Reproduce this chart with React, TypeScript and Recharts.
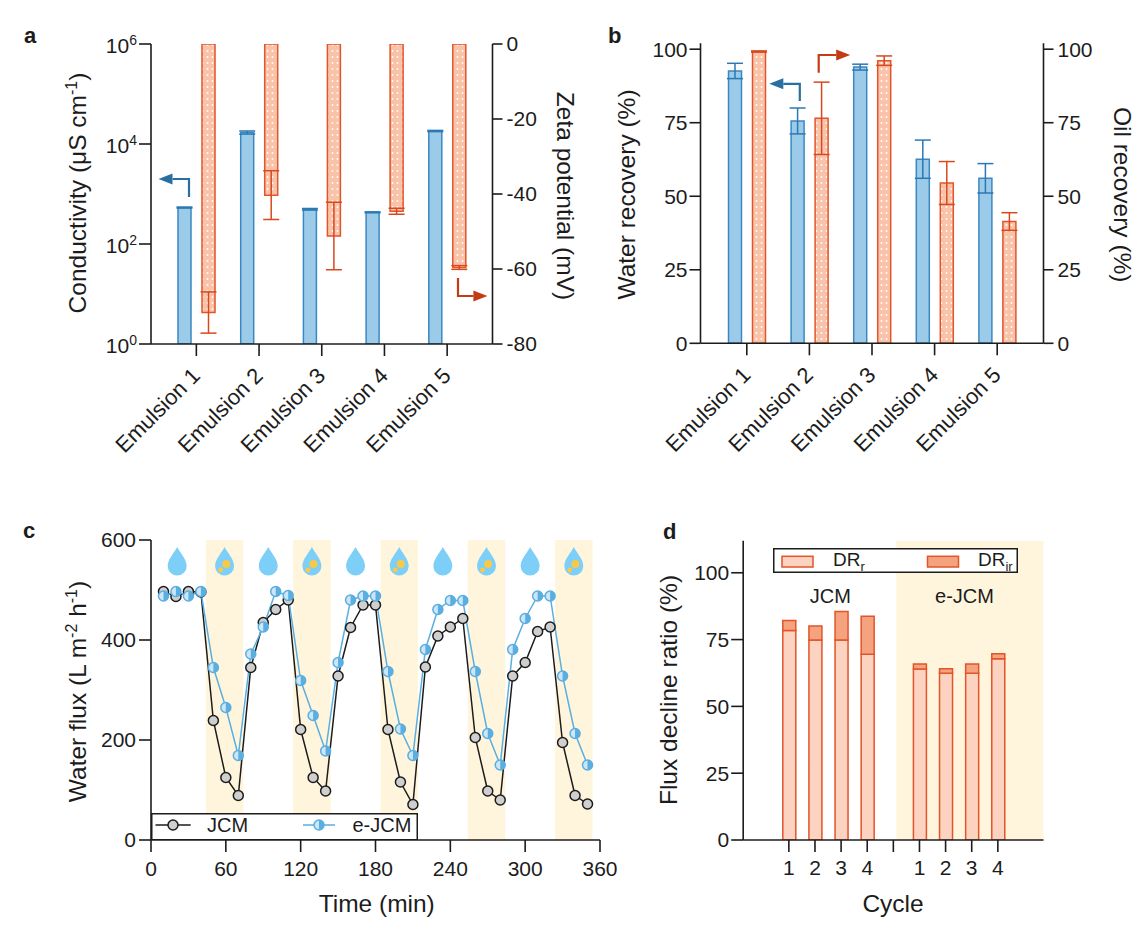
import React from "react";
import {
  ComposedChart,
  Bar,
  Line,
  XAxis,
  YAxis,
  ErrorBar,
  ReferenceArea,
  ReferenceDot,
  Legend,
} from "recharts";

const FONT = "Arial, 'Liberation Sans', Helvetica, sans-serif";
const INK = "#1c1c1c";
const BLUE_FILL = "#9ccbea";
const BLUE_LINE = "#3a88c2";
const BLUE_ERR = "#2b78b3";
const ORANGE_FILL = "#f9c3aa";
const ORANGE_LINE = "#e2542a";
const ORANGE_ERR = "#d8481d";
const DR_IR_FILL = "#f5a27f";
const CREAM = "#fff5dc";
const EBLUE = "#5aaee0";
const DROP = "#7ecff8";
const OIL = "#f7c948";

// ---- panel a: conductivity (log, left) and zeta potential (right)
const emulsions = ["Emulsion 1", "Emulsion 2", "Emulsion 3", "Emulsion 4", "Emulsion 5"];
const conductivity = [535, 17000, 495, 430, 18200];
const conductivityErr = [12, 1200, 18, 9, 500];
const zeta = [-71.6, -40.3, -51.2, -44.6, -59.6];
const zetaErr = [5.5, 6.5, 9, 0.8, 0.5];
const conductivityTicks = [1, 100, 10000, 1000000];
const zetaTicks = [-80, -60, -40, -20, 0];

// ---- panel b: water / oil recovery
const waterRecovery = [92.6, 75.6, 93.9, 62.6, 56.1];
const waterRecoveryErr = [2.6, 4.4, 1, 6.5, 5];
const oilRecovery = [99.2, 76.5, 96.1, 54.5, 41.4];
const oilRecoveryErr = [0.2, 12.3, 1.6, 7.3, 3];
const recoveryTicks = [0, 25, 50, 75, 100];

// ---- panel c: water flux over time
const time = [10, 20, 30, 40, 50, 60, 70, 80, 90, 100, 110, 120, 130, 140, 150, 160, 170, 180,
  190, 200, 210, 220, 230, 240, 250, 260, 270, 280, 290, 300, 310, 320, 330, 340, 350];
const jcmFlux = [497, 487, 497, 496, 239, 125, 89, 345, 435, 461, 480, 221, 125, 98, 328, 425, 470, 470,
  221, 116, 71, 346, 408, 426, 443, 205, 98, 80, 328, 355, 417, 426, 195, 89, 72];
const ejcmFlux = [488, 497, 488, 497, 345, 265, 169, 372, 426, 497, 489, 319, 249, 178, 355, 480, 488, 488,
  337, 222, 169, 381, 461, 479, 479, 337, 213, 150, 381, 443, 488, 488, 328, 213, 150];
const timeTicks = [0, 60, 120, 180, 240, 300, 360];
const fluxTicks = [0, 200, 400, 600];
const oilFeedPeriods = [[44, 74], [114, 144], [184, 214], [254, 284], [324, 354]];
const waterDropTimes = [21, 94, 164, 234, 304];
const oilDropTimes = [59, 129, 199, 269, 339];
const dropLevel = 556;

// ---- panel d: flux decline ratio
const cycleGroups = ["JCM", "JCM", "JCM", "JCM", "", "e-JCM", "e-JCM", "e-JCM", "e-JCM"];
const cycles = ["1", "2", "3", "4", "", "1", "2", "3", "4"];
const drR = [78.4, 74.8, 74.8, 69.5, null, 64, 62.4, 62.4, 67.8];
const drIr = [3.7, 5.3, 10.7, 14.2, null, 1.9, 1.7, 3.5, 1.9];
const declineTicks = [0, 25, 50, 75, 100];
const eJcmShadeFrom = 0.51;

const panelAData = emulsions.map((name, i) => ({
  name,
  conductivity: conductivity[i],
  conductivityErr: conductivityErr[i],
  zeta: zeta[i],
  zetaErr: zetaErr[i],
}));

const panelBData = emulsions.map((name, i) => ({
  name,
  water: waterRecovery[i],
  waterErr: waterRecoveryErr[i],
  oil: oilRecovery[i],
  oilErr: oilRecoveryErr[i],
}));

const panelCData = time.map((t, i) => ({ time: t, jcm: jcmFlux[i], ejcm: ejcmFlux[i] }));

const panelDData = cycles.map((c, i) => ({
  slot: `${cycleGroups[i] || "gap"}-${c}-${i}`,
  cycle: c,
  drR: drR[i],
  drIr: drIr[i],
}));

const axisLine = { stroke: INK, strokeWidth: 1.6 };
const tickStyle = { fill: INK, fontSize: 21, fontFamily: FONT };

function EmulsionTick(props: any) {
  const { x, y, payload } = props;
  const ax = x + 5;
  const ay = y + 19;
  return (
    <text
      x={ax}
      y={ay}
      transform={`rotate(-45 ${ax} ${ay})`}
      textAnchor="end"
      fill={INK}
      fontSize={22}
      fontFamily={FONT}
    >
      {payload.value}
    </text>
  );
}

function PowerTick(props: any) {
  const { x, y, payload } = props;
  const exp = Math.round(Math.log10(payload.value));
  return (
    <text x={x} y={y + 9} textAnchor="end" fill={INK} fontSize={21} fontFamily={FONT}>
      10
      <tspan dy={-8} fontSize={14}>
        {exp}
      </tspan>
    </text>
  );
}

function CycleTick(props: any) {
  const { x, y, index } = props;
  return (
    <text x={x} y={y} dy="0.71em" textAnchor="middle" fill={INK} fontSize={21} fontFamily={FONT}>
      {cycles[index] ?? ""}
    </text>
  );
}

function HalfDot(props: any) {
  const { cx, cy } = props;
  if (cx == null || cy == null) return <g />;
  const r = 5;
  return (
    <g>
      <circle cx={cx} cy={cy} r={r} fill="#cde6f7" stroke={EBLUE} strokeWidth={1.5} />
      <path d={`M${cx},${cy - r} A${r},${r} 0 0 1 ${cx},${cy + r} Z`} fill={EBLUE} />
    </g>
  );
}

function Drop(props: any) {
  const { cx, cy, oily } = props;
  if (cx == null || cy == null) return <g />;
  const d = `M${cx},${cy - 15} C${cx + 3},${cy - 9} ${cx + 9.5},${cy - 3} ${cx + 9.5},${cy + 4} A9.5,9.5 0 1 1 ${cx - 9.5},${cy + 4} C${cx - 9.5},${cy - 3} ${cx - 3},${cy - 9} ${cx},${cy - 15} Z`;
  return (
    <g>
      <path d={d} fill={DROP} />
      {oily && <circle cx={cx + 1.6} cy={cy + 2} r={4} fill={OIL} />}
      {oily && <circle cx={cx - 4} cy={cy + 8} r={2.4} fill={OIL} />}
    </g>
  );
}

function FluxLegend() {
  return (
    <svg width={267} height={27} style={{ display: "block" }}>
      <rect x={0.75} y={0.75} width={265.5} height={26} fill="#fff" stroke={INK} strokeWidth={1.5} />
      <line x1={4.5} x2={39.7} y1={12} y2={12} stroke={INK} strokeWidth={1.5} />
      <circle cx={22} cy={12} r={5} fill="#cfcfcf" stroke={INK} strokeWidth={1.5} />
      <text x={56} y={19} fontSize={20} fill={INK} fontFamily={FONT}>
        JCM
      </text>
      <line x1={152} x2={184} y1={12} y2={12} stroke={EBLUE} strokeWidth={1.5} />
      <HalfDot cx={168} cy={12} />
      <text x={201.5} y={19} fontSize={20} fill={INK} fontFamily={FONT}>
        e-JCM
      </text>
    </svg>
  );
}

function DeclineLegend() {
  return (
    <svg width={245} height={25} style={{ display: "block" }}>
      <rect x={0.75} y={0.75} width={243.5} height={23.5} fill="#fff" stroke={INK} strokeWidth={1.5} />
      <rect x={9} y={8.3} width={31} height={10.7} fill="#fcd3c1" stroke={ORANGE_LINE} strokeWidth={1.5} />
      <text x={60} y={18.3} fontSize={19} fill={INK} fontFamily={FONT}>
        DR
        <tspan dy={5} fontSize={13}>
          r
        </tspan>
      </text>
      <rect x={154.5} y={8.3} width={31} height={10.7} fill={DR_IR_FILL} stroke={ORANGE_LINE} strokeWidth={1.5} />
      <text x={205} y={18.3} fontSize={19} fill={INK} fontFamily={FONT}>
        DR
        <tspan dy={5} fontSize={13}>
          ir
        </tspan>
      </text>
    </svg>
  );
}

function PanelA() {
  return (
    <ComposedChart
      width={574}
      height={470}
      data={panelAData}
      margin={{ top: 44, right: 0, bottom: 0, left: 0 }}
      barSize={13}
      barGap={11}
    >
      <XAxis
        dataKey="name"
        interval={0}
        height={126}
        padding={{ left: 14, right: 14 }}
        tickSize={12}
        tickMargin={2}
        tick={(p: any) => <EmulsionTick {...p} />}
        axisLine={axisLine}
        tickLine={axisLine}
      />
      <XAxis xAxisId="frame" orientation="top" height={0} tick={false} tickLine={false} axisLine={axisLine} />
      <YAxis
        yAxisId="cond"
        scale="log"
        domain={[1, 1000000]}
        ticks={conductivityTicks}
        allowDataOverflow
        width={151}
        tickSize={12}
        tickMargin={2}
        tick={(p: any) => <PowerTick {...p} />}
        axisLine={axisLine}
        tickLine={axisLine}
      />
      <YAxis
        yAxisId="zeta"
        orientation="right"
        domain={[-80, 0]}
        ticks={zetaTicks}
        allowDataOverflow
        width={81.5}
        tickSize={10}
        tickMargin={4}
        tick={tickStyle}
        axisLine={axisLine}
        tickLine={axisLine}
      />
      <Bar yAxisId="cond" dataKey="conductivity" fill={BLUE_FILL} stroke={BLUE_LINE} strokeWidth={1.5} isAnimationActive={false}>
        <ErrorBar dataKey="conductivityErr" width={8} stroke={BLUE_ERR} strokeWidth={1.5} />
      </Bar>
      <Bar yAxisId="zeta" dataKey="zeta" fill="url(#dotFill)" stroke={ORANGE_LINE} strokeWidth={1.5} isAnimationActive={false}>
        <ErrorBar dataKey="zetaErr" width={8} stroke={ORANGE_ERR} strokeWidth={1.5} />
      </Bar>
    </ComposedChart>
  );
}

function PanelB() {
  return (
    <ComposedChart
      width={574}
      height={470}
      data={panelBData}
      margin={{ top: 43.3, right: 0, bottom: 0, left: 0 }}
      barSize={13}
      barGap={11}
    >
      <XAxis
        dataKey="name"
        interval={0}
        height={126.7}
        padding={{ left: 15, right: 15 }}
        tickSize={12}
        tickMargin={2}
        tick={(p: any) => <EmulsionTick {...p} />}
        axisLine={axisLine}
        tickLine={axisLine}
      />
      <XAxis xAxisId="frame" orientation="top" height={0} tick={false} tickLine={false} axisLine={axisLine} />
      <YAxis
        yAxisId="water"
        domain={[0, 102]}
        ticks={recoveryTicks}
        allowDataOverflow
        width={126.5}
        tickSize={11}
        tickMargin={2}
        tick={tickStyle}
        axisLine={axisLine}
        tickLine={axisLine}
      />
      <YAxis
        yAxisId="oil"
        orientation="right"
        domain={[0, 102]}
        ticks={recoveryTicks}
        allowDataOverflow
        width={104.5}
        tickSize={10}
        tickMargin={4}
        tick={tickStyle}
        axisLine={axisLine}
        tickLine={axisLine}
      />
      <Bar yAxisId="water" dataKey="water" fill={BLUE_FILL} stroke={BLUE_LINE} strokeWidth={1.5} isAnimationActive={false}>
        <ErrorBar dataKey="waterErr" width={8} stroke={BLUE_ERR} strokeWidth={1.5} />
      </Bar>
      <Bar yAxisId="oil" dataKey="oil" fill="url(#dotFill)" stroke={ORANGE_LINE} strokeWidth={1.5} isAnimationActive={false}>
        <ErrorBar dataKey="oilErr" width={8} stroke={ORANGE_ERR} strokeWidth={1.5} />
      </Bar>
    </ComposedChart>
  );
}

function PanelC() {
  return (
    <ComposedChart
      width={620}
      height={451}
      data={panelCData}
      margin={{ top: 60, right: 20, bottom: 0, left: 0 }}
    >
      <XAxis
        dataKey="time"
        type="number"
        domain={[0, 360]}
        ticks={timeTicks}
        interval={0}
        height={91}
        tickSize={12}
        tickMargin={9}
        tick={tickStyle}
        axisLine={axisLine}
        tickLine={axisLine}
      />
      <XAxis xAxisId="frame" orientation="top" height={0} tick={false} tickLine={false} axisLine={axisLine} />
      <YAxis
        domain={[0, 600]}
        ticks={fluxTicks}
        allowDataOverflow
        width={151}
        tickSize={12}
        tickMargin={3}
        tick={tickStyle}
        axisLine={axisLine}
        tickLine={axisLine}
      />
      <YAxis yAxisId="frame" orientation="right" width={0} tick={false} tickLine={false} axisLine={axisLine} />
      {oilFeedPeriods.map(([a, b]) => (
        <ReferenceArea key={`band-${a}`} x1={a} x2={b} fill={CREAM} fillOpacity={1} stroke="none" />
      ))}
      {waterDropTimes.map((t) => (
        <ReferenceDot key={`w-${t}`} x={t} y={dropLevel} r={0} shape={(p: any) => <Drop {...p} />} />
      ))}
      {oilDropTimes.map((t) => (
        <ReferenceDot key={`o-${t}`} x={t} y={dropLevel} r={0} shape={(p: any) => <Drop {...p} oily />} />
      ))}
      <Line
        dataKey="jcm"
        stroke={INK}
        strokeWidth={1.5}
        dot={{ r: 5, fill: "#cfcfcf", stroke: INK, strokeWidth: 1.5 }}
        isAnimationActive={false}
      />
      <Line
        dataKey="ejcm"
        stroke={EBLUE}
        strokeWidth={1.5}
        dot={(p: any) => <HalfDot key={`e-${p.index}`} {...p} />}
        isAnimationActive={false}
      />
      <Legend
        layout="horizontal"
        verticalAlign="middle"
        align="center"
        wrapperStyle={{ left: 151, top: 333, width: 267, height: 27, margin: 0, padding: 0, lineHeight: 0 }}
        content={() => <FluxLegend />}
      />
    </ComposedChart>
  );
}

function PanelD() {
  return (
    <ComposedChart
      width={528}
      height={451}
      data={panelDData}
      margin={{ top: 60.7, right: 104.5, bottom: 0, left: 0 }}
      barSize={13}
    >
      <XAxis
        dataKey="slot"
        interval={0}
        height={91}
        padding={{ left: 32.6, right: 32.6 }}
        tickSize={12}
        tickMargin={8}
        tick={(p: any) => <CycleTick {...p} />}
        axisLine={axisLine}
        tickLine={axisLine}
      />
      <XAxis xAxisId="shade" dataKey="shadeX" type="number" domain={[0, 1]} allowDataOverflow hide />
      <XAxis xAxisId="frame" orientation="top" height={0} tick={false} tickLine={false} axisLine={axisLine} />
      <YAxis
        domain={[0, 112]}
        ticks={declineTicks}
        allowDataOverflow
        width={123.2}
        tickSize={12}
        tickMargin={2}
        tick={tickStyle}
        axisLine={axisLine}
        tickLine={axisLine}
      />
      <YAxis yAxisId="frame" orientation="right" width={0} tick={false} tickLine={false} axisLine={axisLine} />
      <ReferenceArea xAxisId="shade" x1={eJcmShadeFrom} x2={1} fill={CREAM} fillOpacity={1} stroke="none" />
      <Bar dataKey="drR" stackId="dr" fill="#fcd3c1" stroke={ORANGE_LINE} strokeWidth={1.5} isAnimationActive={false} />
      <Bar dataKey="drIr" stackId="dr" fill={DR_IR_FILL} stroke={ORANGE_LINE} strokeWidth={1.5} isAnimationActive={false} />
      <Legend
        layout="horizontal"
        verticalAlign="middle"
        align="center"
        wrapperStyle={{ left: 153, top: 67.7, width: 245, height: 25, margin: 0, padding: 0, lineHeight: 0 }}
        content={() => <DeclineLegend />}
      />
    </ComposedChart>
  );
}

function Arrow({ x, y0, y1, tip, color }: { x: number; y0: number; y1: number; tip: number; color: string }) {
  const dir = tip > x ? 1 : -1;
  const base = tip - dir * 14;
  return (
    <g>
      <polyline points={`${x},${y0} ${x},${y1} ${base},${y1}`} fill="none" stroke={color} strokeWidth={2.2} />
      <polygon points={`${tip},${y1} ${base},${y1 - 5.5} ${base},${y1 + 5.5}`} fill={color} />
    </g>
  );
}

function Title({ x, y, rotate = 0, children }: { x: number; y: number; rotate?: number; children: React.ReactNode }) {
  return (
    <text
      transform={`translate(${x},${y}) rotate(${rotate})`}
      textAnchor="middle"
      dy="0.35em"
      fontSize={24.5}
      fill={INK}
      fontFamily={FONT}
    >
      {children}
    </text>
  );
}

function Annotations() {
  const letter = { fontSize: 22, fontWeight: 700, fill: INK, fontFamily: FONT };
  return (
    <svg
      width={1148}
      height={931}
      style={{ position: "absolute", left: 0, top: 0, pointerEvents: "none" }}
    >
      <text x={24} y={43} {...letter}>a</text>
      <text x={608} y={43} {...letter}>b</text>
      <text x={23} y={538} {...letter}>c</text>
      <text x={663} y={539} {...letter}>d</text>

      <Title x={77} y={193} rotate={-90}>
        Conductivity (μS cm<tspan dy={-9} fontSize={16}>-1</tspan>
        <tspan dy={9}>)</tspan>
      </Title>
      <Title x={566} y={196} rotate={90}>Zeta potential (mV)</Title>
      <Title x={626} y={194.5} rotate={-90}>Water recovery (%)</Title>
      <Title x={1122.7} y={194.7} rotate={90}>Oil recovery (%)</Title>
      <Title x={77} y={691.5} rotate={-90}>
        Water flux (L m<tspan dy={-9} fontSize={16}>-2</tspan>
        <tspan dy={9}> h</tspan>
        <tspan dy={-9} fontSize={16}>-1</tspan>
        <tspan dy={9}>)</tspan>
      </Title>
      <Title x={376.7} y={903}>Time (min)</Title>
      <Title x={668.3} y={690} rotate={-90}>Flux decline ratio (%)</Title>
      <Title x={893} y={903}>Cycle</Title>

      <text x={830.3} y={602.7} textAnchor="middle" fontSize={20} fill={INK} fontFamily={FONT}>JCM</text>
      <text x={964.5} y={602.7} textAnchor="middle" fontSize={20} fill={INK} fontFamily={FONT}>e-JCM</text>

      <Arrow x={189} y0={197} y1={179} tip={158.5} color="#2a6f9f" />
      <Arrow x={458} y0={278} y1={296} tip={487.4} color="#c33c14" />
      <Arrow x={799.8} y0={101} y1={83.8} tip={769.3} color="#2a6f9f" />
      <Arrow x={818.7} y0={72.7} y1={55} tip={850.2} color="#c33c14" />
    </svg>
  );
}

function PatternDefs() {
  return (
    <svg width={0} height={0} style={{ position: "absolute" }}>
      <defs>
        <pattern id="dotFill" width={5} height={6} patternUnits="userSpaceOnUse">
          <rect width={5} height={6} fill={ORANGE_FILL} />
          <circle cx={2.5} cy={3} r={0.9} fill="#fff" />
        </pattern>
      </defs>
    </svg>
  );
}

export default function App() {
  return (
    <div
      style={{
        position: "absolute",
        left: 0,
        top: 0,
        width: 1148,
        height: 931,
        background: "#fff",
        fontFamily: FONT,
        overflow: "hidden",
      }}
    >
      <PatternDefs />
      <div style={{ position: "absolute", left: 0, top: 0 }}>
        <PanelA />
      </div>
      <div style={{ position: "absolute", left: 574, top: 0 }}>
        <PanelB />
      </div>
      <div style={{ position: "absolute", left: 0, top: 480 }}>
        <PanelC />
      </div>
      <div style={{ position: "absolute", left: 620, top: 480 }}>
        <PanelD />
      </div>
      <Annotations />
    </div>
  );
}
